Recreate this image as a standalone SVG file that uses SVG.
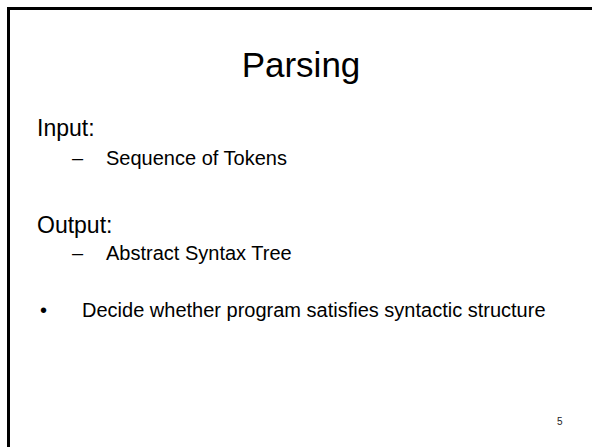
<svg xmlns="http://www.w3.org/2000/svg" width="592" height="447" viewBox="0 0 592 447">
<style>
text{font-family:"Liberation Sans",Arial,sans-serif;fill:#000}
.t{font-size:35px}
.h{font-size:23px}
.s{font-size:20px}
.n{font-size:10px;fill:#222}
</style>
<rect width="592" height="447" fill="#fff"/>
<path d="M8.5 447V8.5H592" fill="none" stroke="#000" stroke-width="3"/>
<g id="title"><text class="t" x="301" y="77" text-anchor="middle">Parsing</text></g>
<g id="input">
<text class="h" x="37" y="136">Input:</text>
<text class="s" x="72" y="165">–</text>
<text class="s" x="106" y="165">Sequence of Tokens</text>
</g>
<g id="output">
<text class="h" x="37" y="233">Output:</text>
<text class="s" x="72" y="260">–</text>
<text class="s" x="106" y="260">Abstract Syntax Tree</text>
</g>
<g id="bullet">
<text class="s" x="40" y="317">•</text>
<text class="s" x="82" y="317">Decide whether program satisfies syntactic structure</text>
</g>
<g id="page"><text class="n" x="557" y="425">5</text></g>
</svg>
